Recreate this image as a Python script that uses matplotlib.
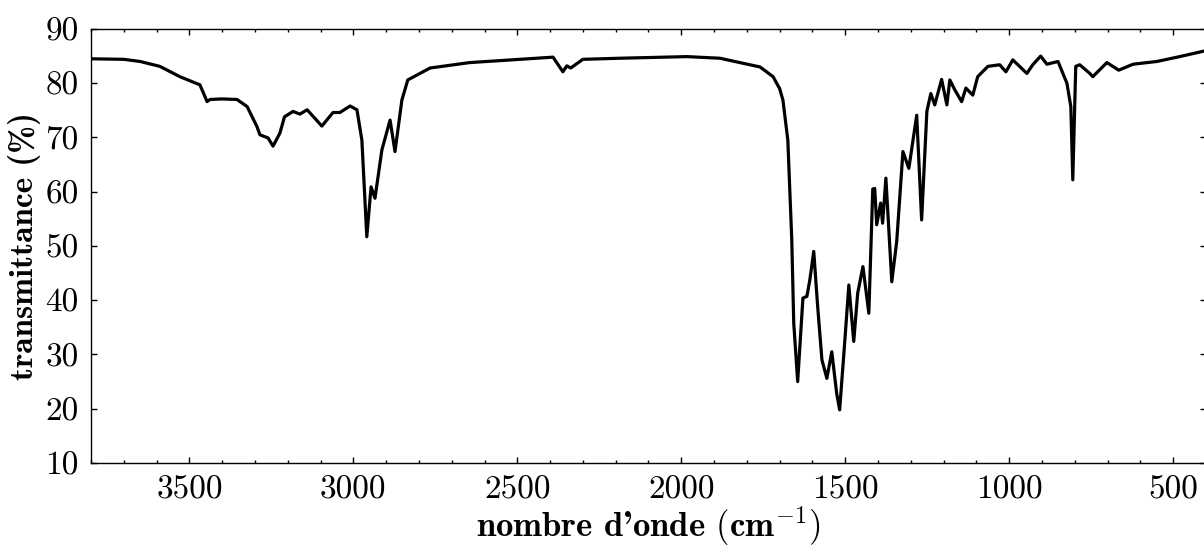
import numpy as np
import matplotlib
matplotlib.use('Agg')
import matplotlib.pyplot as plt
from matplotlib.ticker import MultipleLocator

plt.rcParams['mathtext.fontset'] = 'cm'
plt.rcParams['axes.unicode_minus'] = False

# IR spectrum (wavenumber in cm-1, transmittance in %)
wavenumber = [3800, 3700, 3650, 3590, 3529, 3468, 3446, 3437, 3400, 3355, 3324,
              3294, 3285, 3260, 3245, 3224, 3210, 3184, 3163, 3141, 3096, 3062,
              3041, 3010, 2989, 2974, 2959, 2946, 2934, 2913, 2888, 2873, 2852,
              2834, 2797, 2766, 2645, 2492, 2391, 2361, 2349, 2337, 2300, 2187,
              1983, 1882, 1791, 1760, 1720, 1700, 1690, 1675, 1663, 1657, 1645, 1629,
              1617, 1608, 1596, 1584, 1571, 1556, 1541, 1526, 1517, 1501, 1489,
              1474, 1462, 1446, 1428, 1416, 1410, 1404, 1392, 1386, 1376, 1358,
              1343, 1324, 1306, 1282, 1267, 1251, 1239, 1227, 1206, 1190, 1181,
              1166, 1145, 1132, 1111, 1096, 1065, 1029, 1010, 989, 946, 928, 904,
              885, 851, 824, 812, 806, 797, 785, 754, 745, 702, 666, 622, 550,
              480, 400]
transmittance = [84.5, 84.4, 84.0, 83.1, 81.2, 79.7, 76.6, 77.0, 77.1, 77.0, 75.7,
                 72.0, 70.5, 69.9, 68.4, 70.8, 73.8, 74.8, 74.3, 75.1, 72.1, 74.6,
                 74.6, 75.8, 75.1, 69.5, 51.7, 60.9, 58.8, 67.7, 73.2, 67.4, 76.9,
                 80.6, 81.8, 82.8, 83.8, 84.4, 84.8, 82.1, 83.2, 82.8, 84.4, 84.6,
                 84.9, 84.6, 83.4, 83.0, 81.2, 79.0, 76.9, 69.5, 51.1, 35.8, 25.0, 40.4,
                 40.7, 43.7, 49.0, 38.8, 29.0, 25.6, 30.5, 22.8, 19.8, 32.7, 42.8,
                 32.4, 41.3, 46.2, 37.6, 60.5, 60.6, 53.9, 57.9, 54.2, 62.5, 43.4,
                 50.8, 67.4, 64.3, 74.1, 54.8, 74.8, 78.1, 76.0, 80.7, 76.0, 80.6,
                 78.8, 76.6, 79.1, 77.8, 81.2, 83.1, 83.4, 82.1, 84.3, 81.8, 83.4, 85.0,
                 83.5, 84.0, 80.0, 75.7, 62.2, 83.1, 83.4, 81.8, 81.2, 83.8, 82.4, 83.5, 84.0,
                 84.9, 86.0]

fig = plt.figure(figsize=(12.04, 5.46), dpi=100)
ax = fig.add_axes([0.0756, 0.152, 0.926, 0.795])

ax.plot(wavenumber, transmittance, color='black', lw=2.3)

ax.set_xlim(3800, 400)
ax.set_ylim(10, 90)
ax.xaxis.set_major_locator(MultipleLocator(500))
ax.xaxis.set_minor_locator(MultipleLocator(100))
ax.yaxis.set_major_locator(MultipleLocator(10))

ax.tick_params(which='both', direction='in', top=True, right=True, width=1.0)
ax.tick_params(which='major', length=4, pad=9)
ax.tick_params(which='minor', length=2.5)
for lab in ax.get_xticklabels() + ax.get_yticklabels():
    lab.set_fontfamily('cmr10')
    lab.set_fontsize(24)
for sp in ax.spines.values():
    sp.set_linewidth(1.0)

ax.set_xlabel("nombre d'onde " + r"$(\mathbf{cm}^{-1})$", fontfamily='cmb10',
              fontsize=25, labelpad=0)
ax.set_ylabel('transmittance (%)', fontfamily='cmb10', fontsize=24, labelpad=3)

fig.savefig('out.png', dpi=100)
